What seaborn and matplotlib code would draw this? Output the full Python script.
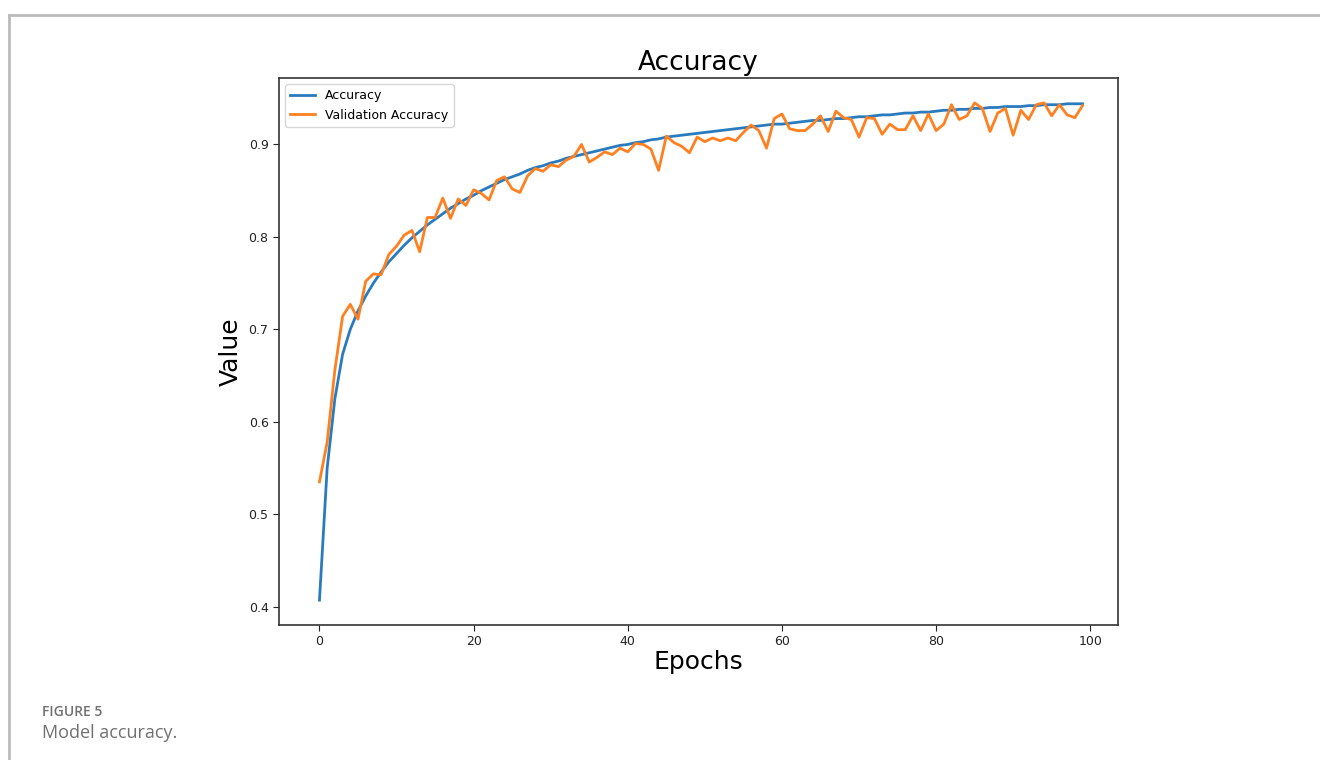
import numpy as np
import pandas as pd
import matplotlib
matplotlib.use("Agg")
import matplotlib.pyplot as plt
import seaborn as sns
from matplotlib.lines import Line2D

epochs = list(range(100))

accuracy = [
    0.407, 0.550, 0.625, 0.673, 0.700, 0.720, 0.736, 0.750, 0.762, 0.773,
    0.782, 0.791, 0.799, 0.806, 0.813, 0.819, 0.825, 0.831, 0.836, 0.841,
    0.845, 0.850, 0.854, 0.858, 0.862, 0.865, 0.868, 0.872, 0.875, 0.877,
    0.880, 0.882, 0.885, 0.887, 0.889, 0.891, 0.893, 0.895, 0.897, 0.899,
    0.900, 0.902, 0.903, 0.905, 0.906, 0.908, 0.909, 0.910, 0.911, 0.912,
    0.913, 0.914, 0.915, 0.916, 0.917, 0.918, 0.919, 0.920, 0.921, 0.922,
    0.922, 0.923, 0.924, 0.925, 0.926, 0.926, 0.927, 0.928, 0.928, 0.929,
    0.930, 0.930, 0.931, 0.932, 0.932, 0.933, 0.934, 0.934, 0.935, 0.935,
    0.936, 0.937, 0.937, 0.938, 0.938, 0.939, 0.939, 0.940, 0.940, 0.941,
    0.941, 0.941, 0.942, 0.942, 0.943, 0.943, 0.943, 0.944, 0.944, 0.944,
]

val_accuracy = [
    0.535, 0.578, 0.656, 0.714, 0.727, 0.711, 0.752, 0.760, 0.759, 0.781,
    0.790, 0.802, 0.807, 0.784, 0.821, 0.821, 0.842, 0.820, 0.841, 0.834,
    0.851, 0.847, 0.840, 0.861, 0.865, 0.852, 0.848, 0.866, 0.874, 0.871,
    0.878, 0.876, 0.883, 0.887, 0.900, 0.881, 0.886, 0.892, 0.889, 0.896,
    0.892, 0.901, 0.900, 0.895, 0.872, 0.909, 0.902, 0.898, 0.891, 0.908,
    0.903, 0.907, 0.904, 0.907, 0.904, 0.913, 0.921, 0.915, 0.896, 0.928,
    0.933, 0.917, 0.915, 0.915, 0.922, 0.931, 0.914, 0.936, 0.929, 0.927,
    0.908, 0.929, 0.928, 0.911, 0.922, 0.916, 0.916, 0.931, 0.915, 0.933,
    0.915, 0.922, 0.943, 0.927, 0.931, 0.945, 0.939, 0.914, 0.934, 0.939,
    0.910, 0.937, 0.927, 0.943, 0.945, 0.931, 0.943, 0.932, 0.929, 0.942,
]

series_names = ["Accuracy", "Validation Accuracy"]
series_colors = ["#2a7bbd", "#ff8020"]
x_ticks = [0, 20, 40, 60, 80, 100]
y_ticks = [0.4, 0.5, 0.6, 0.7, 0.8, 0.9]

df = pd.DataFrame({
    "Epochs": epochs * 2,
    "Value": accuracy + val_accuracy,
    "Series": [series_names[0]] * len(epochs) + [series_names[1]] * len(epochs),
})

fig = plt.figure(figsize=(13.2, 7.6), dpi=100)
ax = fig.add_axes([279 / 1320, 1 - 625 / 760, (1118 - 279) / 1320, (625 - 78) / 760])

sns.lineplot(data=df, x="Epochs", y="Value", hue="Series",
             palette=series_colors, linewidth=2.0, ax=ax, legend=False)

ax.set_xlim(-5.25, 103.6)
ax.set_xticks(x_ticks)
ax.set_yticks(y_ticks)
ax.set_yticklabels([f"{v:.1f}" for v in y_ticks])
ax.tick_params(labelsize=9, colors="#222222", length=4)
for s in ax.spines.values():
    s.set_color("#333333")
    s.set_linewidth(1.2)

ax.set_title("Accuracy", fontsize=19, pad=6)
ax.set_xlabel("Epochs", fontsize=18, labelpad=1.5)
ax.set_ylabel("Value", fontsize=18, labelpad=4)
ax.grid(False)

handles = [Line2D([0], [0], color=c, lw=2.0) for c in series_colors]
ax.legend(handles, series_names, loc="upper left", fontsize=9,
          frameon=True, fancybox=True, framealpha=0.8, edgecolor="#cccccc")

# figure frame (top and left border) and caption
fig.add_artist(Line2D([9 / 1320, 9 / 1320], [0, 1 - 15 / 760],
                      color="#bbbbbb", lw=2, transform=fig.transFigure))
fig.add_artist(Line2D([9 / 1320, 1], [1 - 15 / 760, 1 - 15 / 760],
                      color="#bbbbbb", lw=2, transform=fig.transFigure))
fig.text(42 / 1320, 1 - 712 / 760, "FIGURE 5", fontsize=10, color="#707070",
         family=["Open Sans", "DejaVu Sans"], fontweight="semibold", va="center")
fig.text(42 / 1320, 1 - 733 / 760, "Model accuracy.", fontsize=13, color="#707070",
         family=["Open Sans", "DejaVu Sans"], va="center")

fig.savefig("out.png", dpi=100, facecolor="white")
